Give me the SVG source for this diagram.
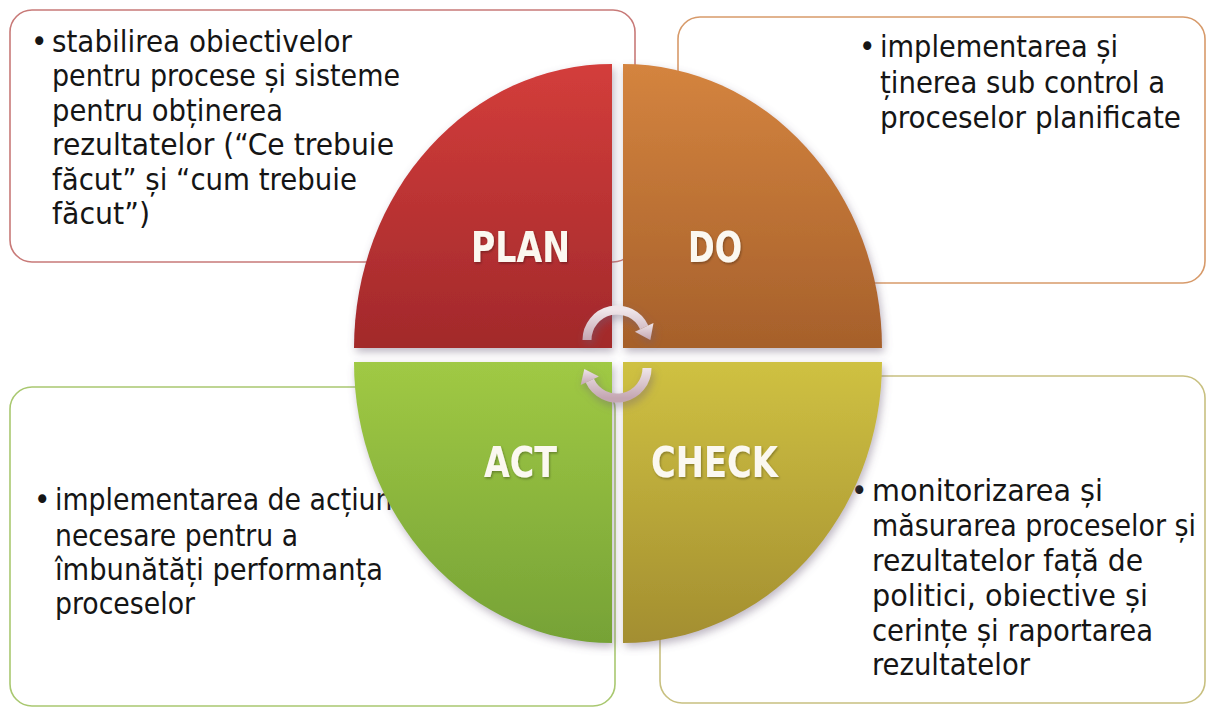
<svg xmlns="http://www.w3.org/2000/svg" width="1207" height="709" viewBox="0 0 1207 709">
  <style>
    .box { fill: #ffffff; stroke-width: 1.6; }
    .txt { font-family: "DejaVu Sans Condensed", "DejaVu Sans", sans-serif; font-size: 31px; fill: #151515; }
    .lbl { font-family: "DejaVu Sans Condensed", "DejaVu Sans", sans-serif; font-size: 43px; font-weight: bold; fill: #fbf8f0; }
    .arc { fill: none; stroke: url(#gArrow); stroke-width: 9; }
    .head { fill: url(#gArrow); }
  </style>
  <defs>
    <linearGradient id="gPlan" x1="0" y1="0" x2="0" y2="1">
      <stop offset="0" stop-color="#d33d3b"/>
      <stop offset="1" stop-color="#a2292b"/>
    </linearGradient>
    <linearGradient id="gDo" x1="0" y1="0" x2="0" y2="1">
      <stop offset="0" stop-color="#d4843f"/>
      <stop offset="1" stop-color="#a6602b"/>
    </linearGradient>
    <linearGradient id="gAct" x1="0" y1="0" x2="0" y2="1">
      <stop offset="0" stop-color="#a0c944"/>
      <stop offset="1" stop-color="#76a236"/>
    </linearGradient>
    <linearGradient id="gCheck" x1="0" y1="0" x2="0" y2="1">
      <stop offset="0" stop-color="#cfc142"/>
      <stop offset="1" stop-color="#a38e30"/>
    </linearGradient>
    <linearGradient id="gArrow" x1="0" y1="0" x2="0" y2="1">
      <stop offset="0" stop-color="#efe6ea"/>
      <stop offset="1" stop-color="#c4a6b2"/>
    </linearGradient>
    <filter id="shadow" x="-10%" y="-10%" width="130%" height="130%">
      <feDropShadow dx="2" dy="4" stdDeviation="4" flood-color="#6f5f78" flood-opacity="0.45"/>
    </filter>
    <filter id="tshadow" x="-10%" y="-10%" width="130%" height="130%">
      <feDropShadow dx="1" dy="1.5" stdDeviation="1" flood-color="#000000" flood-opacity="0.3"/>
    </filter>
  </defs>

  <!-- text boxes (behind the cycle) -->
  <g id="box-plan">
    <rect class="box" x="10" y="10" width="625" height="252" rx="22" stroke="#c87a78"/>
    <text class="txt" x="31" y="52">•</text>
    <text class="txt" x="52" y="52" textLength="300" lengthAdjust="spacingAndGlyphs">stabilirea obiectivelor</text>
    <text class="txt" x="52" y="86" textLength="348" lengthAdjust="spacingAndGlyphs">pentru procese și sisteme</text>
    <text class="txt" x="52" y="121" textLength="231" lengthAdjust="spacingAndGlyphs">pentru obținerea</text>
    <text class="txt" x="52" y="155" textLength="342" lengthAdjust="spacingAndGlyphs">rezultatelor (“Ce trebuie</text>
    <text class="txt" x="52" y="190" textLength="305" lengthAdjust="spacingAndGlyphs">făcut” și “cum trebuie</text>
    <text class="txt" x="52" y="224" textLength="98" lengthAdjust="spacingAndGlyphs">făcut”)</text>
  </g>

  <g id="box-do">
    <rect class="box" x="678" y="17" width="527" height="266" rx="22" stroke="#d79a6a"/>
    <text class="txt" x="859" y="57">•</text>
    <text class="txt" x="880" y="57" textLength="238" lengthAdjust="spacingAndGlyphs">implementarea și</text>
    <text class="txt" x="880" y="93" textLength="285" lengthAdjust="spacingAndGlyphs">ținerea sub control a</text>
    <text class="txt" x="880" y="128" textLength="301" lengthAdjust="spacingAndGlyphs">proceselor planificate</text>
  </g>

  <g id="box-act">
    <rect class="box" x="10" y="387" width="605" height="319" rx="22" stroke="#a9c870"/>
    <text class="txt" x="34" y="510">•</text>
    <text class="txt" x="55" y="510" textLength="345" lengthAdjust="spacingAndGlyphs">implementarea de acțiuni</text>
    <text class="txt" x="55" y="546" textLength="243" lengthAdjust="spacingAndGlyphs">necesare pentru a</text>
    <text class="txt" x="55" y="580" textLength="328" lengthAdjust="spacingAndGlyphs">îmbunătăți performanța</text>
    <text class="txt" x="55" y="614" textLength="140" lengthAdjust="spacingAndGlyphs">proceselor</text>
  </g>

  <g id="box-check">
    <rect class="box" x="660" y="376" width="545" height="327" rx="22" stroke="#c8c080"/>
    <text class="txt" x="851" y="501">•</text>
    <text class="txt" x="872" y="501" textLength="231" lengthAdjust="spacingAndGlyphs">monitorizarea și</text>
    <text class="txt" x="872" y="536" textLength="324" lengthAdjust="spacingAndGlyphs">măsurarea proceselor și</text>
    <text class="txt" x="872" y="571" textLength="271" lengthAdjust="spacingAndGlyphs">rezultatelor față de</text>
    <text class="txt" x="872" y="606" textLength="276" lengthAdjust="spacingAndGlyphs">politici, obiective și</text>
    <text class="txt" x="872" y="641" textLength="281" lengthAdjust="spacingAndGlyphs">cerințe și raportarea</text>
    <text class="txt" x="872" y="675" textLength="158" lengthAdjust="spacingAndGlyphs">rezultatelor</text>
  </g>

  <!-- cycle quadrants -->
  <g id="node-plan">
    <path d="M612,348 L354,348 A258,284 0 0 1 612,64 Z" fill="url(#gPlan)" filter="url(#shadow)"/>
    <text class="lbl" x="471" y="262" textLength="99" lengthAdjust="spacingAndGlyphs" filter="url(#tshadow)">PLAN</text>
  </g>
  <g id="node-do">
    <path d="M623,348 L623,64 A259,284 0 0 1 882,348 Z" fill="url(#gDo)" filter="url(#shadow)"/>
    <text class="lbl" x="688" y="262" textLength="54" lengthAdjust="spacingAndGlyphs" filter="url(#tshadow)">DO</text>
  </g>
  <g id="node-act">
    <path d="M612,362 L354,362 A258,281 0 0 0 612,643 Z" fill="url(#gAct)" filter="url(#shadow)"/>
    <text class="lbl" x="484" y="477" textLength="73" lengthAdjust="spacingAndGlyphs" filter="url(#tshadow)">ACT</text>
  </g>
  <g id="node-check">
    <path d="M623,362 L882,362 A259,281 0 0 1 623,643 Z" fill="url(#gCheck)" filter="url(#shadow)"/>
    <text class="lbl" x="651" y="477" textLength="127" lengthAdjust="spacingAndGlyphs" filter="url(#tshadow)">CHECK</text>
  </g>

  <!-- circular arrows -->
  <g id="connectors" filter="url(#shadow)">
    <path class="arc" d="M587,340 A30,30 0 0 1 644.2,327.3"/>
    <polygon class="head" points="653.5,322.9 634.9,331.7 650.3,340"/>
    <path class="arc" d="M647,368 A30,30 0 0 1 589.8,380.7"/>
    <polygon class="head" points="580.7,384.9 598.9,376.5 584.3,368.9"/>
  </g>
</svg>
